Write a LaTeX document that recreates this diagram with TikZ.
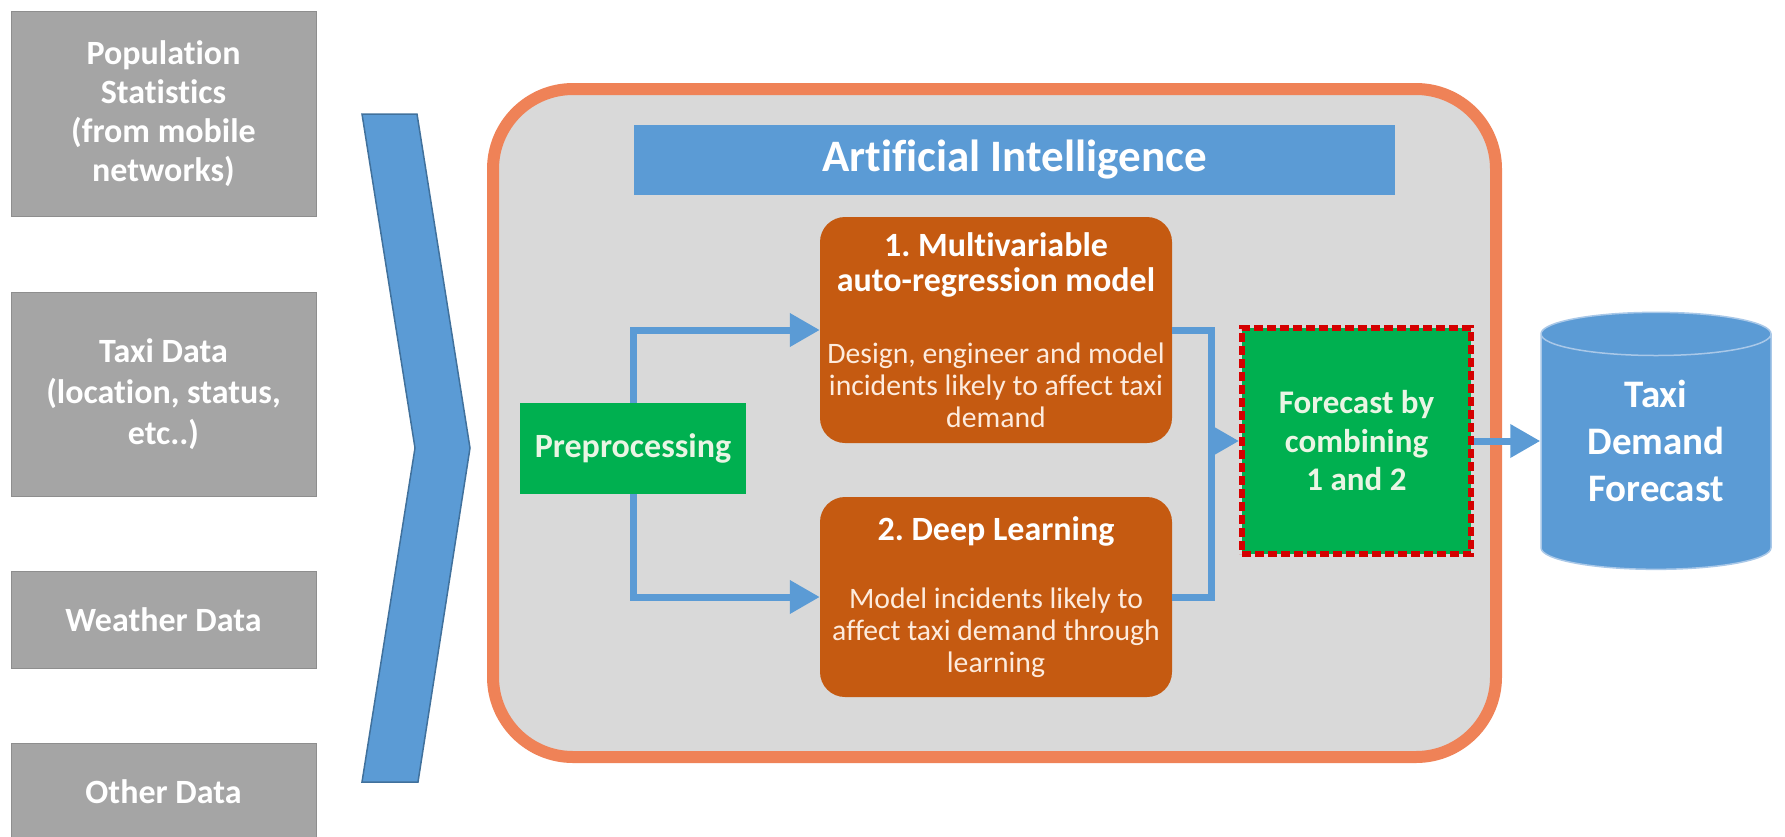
\documentclass[tikz,border=0pt]{standalone}
\usepackage{fontspec}
\setmainfont{Carlito}[Ligatures={NoCommon,NoContextual}]
\usetikzlibrary{arrows.meta,shapes.geometric}

\definecolor{srcgray}{HTML}{A5A5A5}
\definecolor{srcedge}{HTML}{8E8E8E}
\definecolor{aiblue}{HTML}{5B9BD5}
\definecolor{chevedge}{HTML}{41719C}
\definecolor{aiedge}{HTML}{EF8257}
\definecolor{aifill}{HTML}{D9D9D9}
\definecolor{modelfill}{HTML}{C55A11}
\definecolor{bodytext}{HTML}{FDEBDD}
\definecolor{pregreen}{HTML}{00B050}
\definecolor{pretext}{HTML}{EAF5E4}
\definecolor{fcred}{HTML}{D40000}
\definecolor{dbedge}{HTML}{A9C8E8}

% rigid word spaces at the size in force
\newcommand{\fixspaces}{\spaceskip=\fontdimen2\font\xspaceskip=\fontdimen2\font\relax}
\newcommand{\titlefont}{\bfseries\fontsize{34}{35}\selectfont\fixspaces}
\newcommand{\bodyfont}{\color{bodytext}\fontsize{29.7}{32}\selectfont\fixspaces}

\begin{document}
\begin{tikzpicture}[x=1pt,y=1pt,yscale=-1,
    srcbox/.style={draw=srcedge, line width=1, fill=srcgray, text=white, align=center,
      minimum width=305, inner sep=0, font=\bfseries\fontsize{34}{39}\selectfont},
    modelbox/.style={fill=modelfill, rounded corners=25, minimum width=352, text width=350,
      inner sep=0, align=center, text=white},
    flow/.style={draw=aiblue, line width=7, -{Triangle[length=30pt,width=32pt]}},
    link/.style={draw=aiblue, line width=7, line join=miter}]
\useasboundingbox (0,0) rectangle (1785,836);

%Shape: Rectangle (data sources)
\node[srcbox, minimum height=205] (pop) at (163.5,113.5) {Population\\Statistics\\(from mobile\\networks)};
\node[srcbox, minimum height=204, font=\bfseries\fontsize{34}{41}\selectfont] (taxi) at (163.5,394) {Taxi Data\\(location, status,\\etc..)};
\node[srcbox, minimum height=97] (weather) at (163.5,619.5) {Weather Data};
\node[srcbox, minimum height=97] (other) at (163.5,791.5) {Other Data};

%Shape: Chevron
\draw[draw=chevedge, line width=1.5, fill=aiblue, line join=miter]
  (362,114) -- (417,114) -- (470,448) -- (418,782) -- (362,782) -- (415,448) -- cycle;

%Shape: Rounded Rectangle (AI frame)
\draw[draw=aiedge, line width=12, fill=aifill, rounded corners=80] (493,89) rectangle (1496,757);

% Text Node
\node[fill=aiblue, minimum width=761, minimum height=70, inner sep=0, text=white,
  font=\bfseries\fontsize{45}{50}\selectfont] (ai) at (1014.5,160) {Artificial Intelligence};

%Shape: Rectangle
\node[fill=pregreen, minimum width=226, minimum height=91, inner sep=0, text=pretext,
  font=\bfseries\fontsize{34}{38}\selectfont] (pre) at (633,448.5) {Preprocessing};

%Shape: Rounded Rectangle (models)
\node[modelbox, minimum height=226] (mvar) at (996,330)
  {{\titlefont 1. Multivariable\\auto-regression model\par}\vskip 40pt
   {\bodyfont Design, engineer and model\\incidents likely to affect taxi\\demand\par}};
\node[modelbox, minimum height=200] (dl) at (996,597)
  {{\titlefont 2. Deep Learning\par}\vskip 36pt
   {\bodyfont Model incidents likely to\\affect taxi demand through\\learning\par}};

%Shape: Rectangle (combined forecast)
\node[fill=pregreen, draw=fcred, line width=6, dash pattern=on 9pt off 4pt,
  minimum width=229, minimum height=226, inner sep=0, text=pretext, align=center,
  font=\bfseries\fontsize{33}{38.5}\selectfont] (fc) at (1356.5,441) {Forecast by\\combining\\1 and 2};

%Shape: Can
\node[cylinder, shape border rotate=90, aspect=0.315, draw=dbedge, line width=1.5,
  fill=aiblue, minimum width=230, minimum height=257, inner sep=0, text depth=22pt,
  text=white, align=center, font=\bfseries\fontsize{39}{47}\selectfont]
  (db) at (1656,452) {Taxi\\Demand\\Forecast};

%Straight Lines
\draw[flow] (pre.north) |- (mvar.west);
\draw[flow] (pre.south) |- (dl.west);
\coordinate (join) at ([xshift=39]mvar.east);
\draw[link] (mvar.east) -- (join) |- (dl.east);
\draw[flow] (join |- fc.west) -- (fc.west);
\draw[flow] (fc.east) -- (fc.east -| db.west);
\end{tikzpicture}
\end{document}
